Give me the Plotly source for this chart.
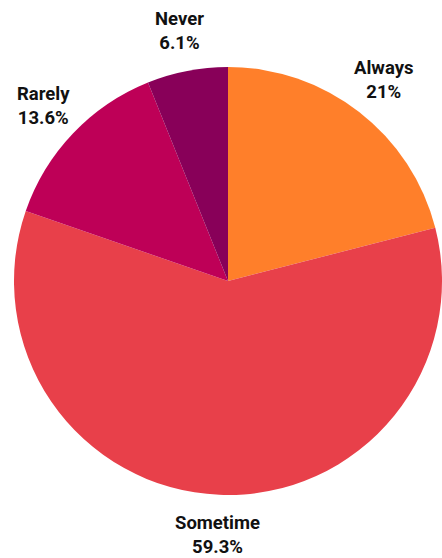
import math
import plotly.graph_objects as go

# Survey answer shares
categories = ["Always", "Sometime", "Rarely", "Never"]
shares = [21, 59.3, 13.6, 6.1]
slice_colors = ["#FF7F2A", "#E8404A", "#BE0057", "#880059"]

W, H = 442, 558
margin = dict(l=14, r=0, t=67, b=63)
plot_w = W - margin["l"] - margin["r"]
plot_h = H - margin["t"] - margin["b"]

fig = go.Figure(
    go.Pie(
        labels=categories,
        values=shares,
        sort=False,
        direction="clockwise",
        rotation=0,
        marker=dict(colors=slice_colors, line=dict(width=0)),
        textinfo="none",
        showlegend=False,
        hoverinfo="label+percent",
    )
)

# Outside labels placed along each slice's mid-angle
total = sum(shares)
label_radius = 1.19  # relative to the pie radius
cum = 0.0
for name, v in zip(categories, shares):
    mid = (cum + v / 2) / total * 2 * math.pi
    cum += v
    dx = math.sin(mid) * label_radius * 0.5
    dy = math.cos(mid) * label_radius * 0.5
    pct = round(v / total * 100, 1)
    fig.add_annotation(
        x=0.5 + dx * plot_h / plot_w,
        y=0.5 + dy,
        xref="paper",
        yref="paper",
        text=f"<b>{name}</b><br><b>{pct:g}%</b>",
        showarrow=False,
        xanchor="center",
        yanchor="middle",
        font=dict(family="Roboto", size=18.5, color="#111111"),
    )

fig.update_layout(
    width=W,
    height=H,
    margin=margin,
    paper_bgcolor="white",
    plot_bgcolor="white",
)

fig.write_html("out.html")
